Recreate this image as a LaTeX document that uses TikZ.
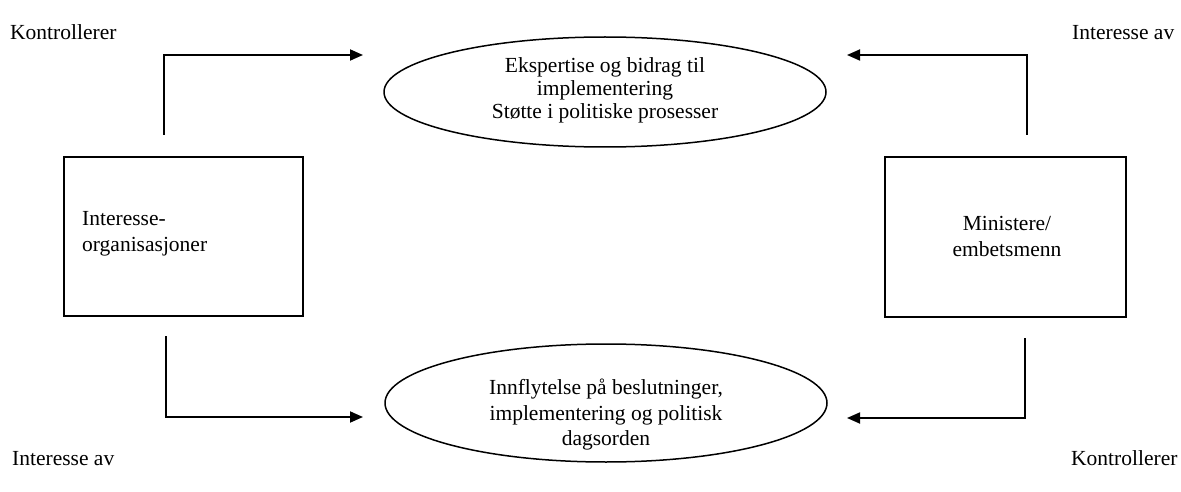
\documentclass[tikz,border=0pt]{standalone}
\usepackage{fontspec}
\setmainfont{Liberation Serif}
\usetikzlibrary{shapes.geometric,arrows.meta}
\begin{document}
\begin{tikzpicture}[x=1pt,y=-1pt,
  conn/.style={line width=1.8pt, -{Triangle[length=13pt,width=11pt]}},
  box/.style={draw, line width=1.8pt, inner sep=0pt},
  oval/.style={draw, ellipse, line width=1.5pt, inner sep=0pt, minimum width=442pt},
  ovaltxt/.style={inner sep=0pt, align=center},
  lbl/.style={inner sep=0pt, font=\fontsize{21.5}{24}\selectfont, anchor=base west},
  boxtxt/.style={inner sep=0pt, font=\fontsize{21.5}{26}\selectfont}]
\useasboundingbox (0,0) rectangle (1181,492);
% boxes
\node[box, minimum width=239pt, minimum height=159pt] (L) at (183.5,236.5) {};
\node[box, minimum width=241pt, minimum height=160pt] (R) at (1005.5,237) {};
\node[boxtxt, align=left, anchor=west] (Ltxt) at (82,234) {Interesse-\\organisasjoner};
\node[boxtxt, align=center] (Rtxt) at (1007,236) {Ministere/\\embetsmenn};
% ellipses
\node[oval, minimum height=110pt] (T) at (605,92) {};
\node[oval, minimum height=118pt] (B) at (606,403) {};
\node[ovaltxt, font=\fontsize{21.5}{23}\selectfont] (Ttxt) at (T.center) [yshift=2pt] {Ekspertise og bidrag til\\implementering\\Støtte i politiske prosesser};
\node[ovaltxt, font=\fontsize{21.5}{25.5}\selectfont] (Btxt) at (B.center) [yshift=-12pt] {Innflytelse på beslutninger,\\implementering og politisk\\dagsorden};
% labels
\node[lbl] (k1) at (10,40) {Kontrollerer};
\node[lbl] (i1) at (1072,40) {Interesse av};
\node[lbl] (i2) at (12,465) {Interesse av};
\node[lbl] (k2) at (1071,465) {Kontrollerer};
% connector coordinates
\coordinate (tls) at (164,135);
\coordinate (tle) at (363,55);
\coordinate (bls) at (166,336);
\coordinate (ble) at (363,417);
\coordinate (trs) at (1027,135);
\coordinate (tre) at (847,55);
\coordinate (brs) at (1025,338);
\coordinate (bre) at (847,418);
\draw[conn] (tls) |- (tle);
\draw[conn] (bls) |- (ble);
\draw[conn] (trs) |- (tre);
\draw[conn] (brs) |- (bre);
\end{tikzpicture}
\end{document}
